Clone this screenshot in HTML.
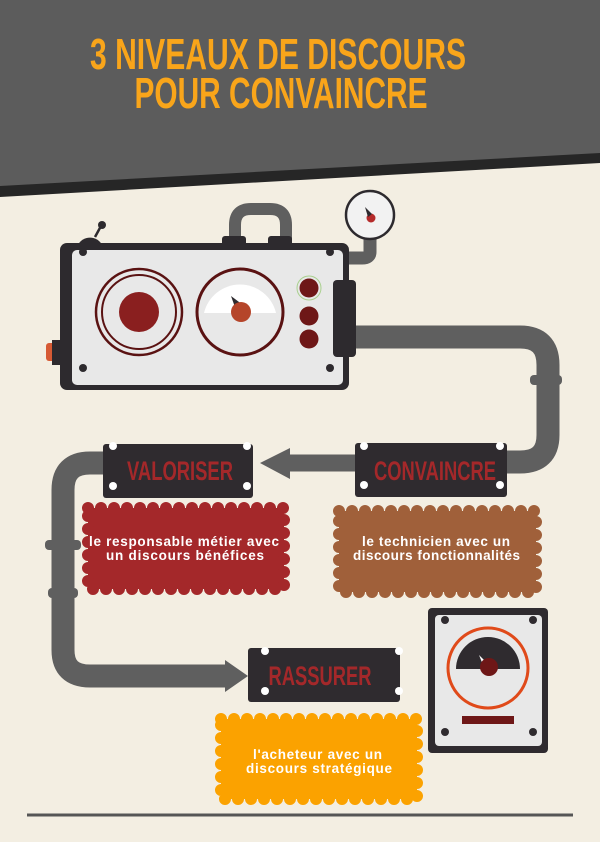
<!DOCTYPE html>
<html><head><meta charset="utf-8"><style>
html,body{margin:0;padding:0;background:#f3eee2;}
svg{display:block}
.t{font-family:"Liberation Sans",sans-serif;font-weight:bold;}
</style></head><body>
<svg width="600" height="842" viewBox="0 0 600 842" xmlns="http://www.w3.org/2000/svg">
<rect width="600" height="842" fill="#f3eee2"/>
<polygon points="0,0 600,0 600,163 0,197" fill="#262626"/>
<polygon points="0,0 600,0 600,153 0,186" fill="#5c5c5c"/>
<text class="t" x="278" y="69" font-size="44" fill="#f9a51a" text-anchor="middle" textLength="376" lengthAdjust="spacingAndGlyphs">3 NIVEAUX DE DISCOURS</text>
<text class="t" x="281" y="108" font-size="44" fill="#f9a51a" text-anchor="middle" textLength="293" lengthAdjust="spacingAndGlyphs">POUR CONVAINCRE</text>

<g fill="none" stroke="#5f5f5f" stroke-linecap="butt">
<path d="M370,238 V252 Q370,258 362,258 H345" stroke-width="13"/>
<path d="M350,337 H520 Q548,337 548,365 V435 Q548,462 520,462 H500" stroke-width="23"/>
<path d="M110,463 H90 Q63,463 63,490 V650 Q63,676 90,676 H230" stroke-width="23"/>
<path d="M235,240 V225 Q235,209 251,209 H270 Q286,209 286,225 V240" stroke-width="12"/>
<path d="M355,463 H285" stroke-width="17"/>
</g>
<polygon points="290,448 260,463 290,479" fill="#5f5f5f"/>
<polygon points="225,660 248,676 225,692" fill="#5f5f5f"/>
<rect x="222" y="668" width="8" height="16" fill="#5f5f5f"/>
<g fill="#5f5f5f">
<rect x="530" y="375" width="32" height="10" rx="4"/>
<rect x="45" y="540" width="36" height="10" rx="4"/>
<rect x="48" y="588" width="30" height="10" rx="4"/>
</g>
<circle cx="370" cy="215" r="24" fill="#f2f2f2" stroke="#2d2a2e" stroke-width="2.5"/>
<circle cx="371" cy="218" r="4.5" fill="#b52b2b"/>
<polygon points="365,207 372,214 368,217" fill="#2d2a2e"/>
<rect x="222" y="236" width="24" height="12" rx="3" fill="#2d2a2e"/>
<rect x="268" y="236" width="24" height="12" rx="3" fill="#2d2a2e"/>
<path d="M78,245 A13,12 0 0 1 102,245 Z" fill="#2d2a2e"/>
<line x1="95" y1="237" x2="101" y2="226" stroke="#2d2a2e" stroke-width="2.5"/>
<circle cx="102" cy="225" r="4" fill="#2d2a2e"/>
<rect x="46" y="343" width="10" height="18" rx="3" fill="#d65a34"/>
<rect x="52" y="340" width="12" height="25" fill="#2d2a2e"/>
<rect x="60" y="243" width="289" height="147" rx="7" fill="#2d2a2e"/>
<rect x="72" y="250" width="271" height="135" rx="5" fill="#e8e8e8"/>
<rect x="333" y="280" width="23" height="77" rx="4" fill="#2d2a2e"/>
<g fill="#2d2a2e"><circle cx="83" cy="252" r="4"/><circle cx="330" cy="252" r="4"/><circle cx="83" cy="368" r="4"/><circle cx="330" cy="368" r="4"/></g>
<circle cx="139" cy="312" r="43" fill="none" stroke="#5a1212" stroke-width="2.5"/>
<circle cx="139" cy="312" r="37" fill="none" stroke="#5a1212" stroke-width="2"/>
<circle cx="139" cy="312" r="20" fill="#8a1f1f"/>
<circle cx="240" cy="312" r="43" fill="#e8e8e8" stroke="#5a1212" stroke-width="3"/>
<path d="M204,313 A37,37 0 0 1 276,313 Z" fill="#ffffff"/>
<polygon points="231,296 243,305 236,310" fill="#2d2a2e"/>
<circle cx="241" cy="312" r="10" fill="#b5452a"/>
<circle cx="309" cy="288" r="12" fill="none" stroke="#a9d08e" stroke-width="1"/>
<g fill="#6e1717"><circle cx="309" cy="288" r="9.5"/><circle cx="309" cy="316" r="9.5"/><circle cx="309" cy="339" r="9.5"/></g>

<rect x="355" y="443" width="152" height="54" rx="3" fill="#2f2b2f"/>
<rect x="103" y="444" width="150" height="54" rx="3" fill="#2f2b2f"/>
<rect x="248" y="648" width="152" height="54" rx="3" fill="#2f2b2f"/>
<g fill="#ffffff">
<circle cx="364" cy="446" r="4"/><circle cx="500" cy="446" r="4"/><circle cx="364" cy="485" r="4"/><circle cx="500" cy="485" r="4"/>
<circle cx="113" cy="446" r="4"/><circle cx="247" cy="446" r="4"/><circle cx="113" cy="486" r="4"/><circle cx="247" cy="486" r="4"/>
<circle cx="265" cy="651" r="4"/><circle cx="399" cy="651" r="4"/><circle cx="265" cy="691" r="4"/><circle cx="399" cy="691" r="4"/>
</g>
<g class="t" fill="#a4282a" font-size="27" text-anchor="middle">
<text x="435" y="480" textLength="122" lengthAdjust="spacingAndGlyphs">CONVAINCRE</text>
<text x="180" y="480" textLength="106" lengthAdjust="spacingAndGlyphs">VALORISER</text>
<text x="320" y="685" textLength="103" lengthAdjust="spacingAndGlyphs">RASSURER</text>
</g>

<g stroke-linecap="round" stroke-linejoin="round">
<rect x="88" y="508" width="196" height="81" fill="#a4282a" stroke="#a4282a" stroke-width="12" stroke-dasharray="0 13"/>
<rect x="339" y="511" width="197" height="81" fill="#a0603a" stroke="#a0603a" stroke-width="12" stroke-dasharray="0 13"/>
<rect x="221" y="719" width="196" height="80" fill="#fba200" stroke="#fba200" stroke-width="12" stroke-dasharray="0 13"/>
</g>
<g class="t" fill="#ffffff" font-size="13.5">
<text x="89" y="546" textLength="190" lengthAdjust="spacing">le responsable métier avec</text>
<text x="106" y="560" textLength="158" lengthAdjust="spacing">un discours  bénéfices</text>
<text x="362" y="546" textLength="148" lengthAdjust="spacing">le technicien avec un</text>
<text x="353" y="560" textLength="167" lengthAdjust="spacing">discours fonctionnalités</text>
<text x="253" y="759" textLength="129" lengthAdjust="spacing">l'acheteur avec un</text>
<text x="246" y="773" textLength="146" lengthAdjust="spacing">discours stratégique</text>
</g>

<rect x="428" y="608" width="120" height="145" rx="4" fill="#2f2b2f"/>
<rect x="435" y="615" width="107" height="131" rx="4" fill="#e8e8e8"/>
<g fill="#2f2b2f"><circle cx="445" cy="620" r="4"/><circle cx="533" cy="620" r="4"/><circle cx="445" cy="732" r="4"/><circle cx="533" cy="732" r="4"/></g>
<circle cx="488" cy="668" r="40" fill="none" stroke="#e04a1a" stroke-width="3"/>
<path d="M456,669 A32,32 0 0 1 520,669 Z" fill="#2f2b2f"/>
<polygon points="479,655 486,662 483,665" fill="#ffffff"/>
<circle cx="489" cy="667" r="9" fill="#6e1717"/>
<rect x="462" y="716" width="52" height="8" fill="#6e1717"/>

<line x1="27" y1="815" x2="573" y2="815" stroke="#555" stroke-width="3"/>
</svg>
</body></html>
